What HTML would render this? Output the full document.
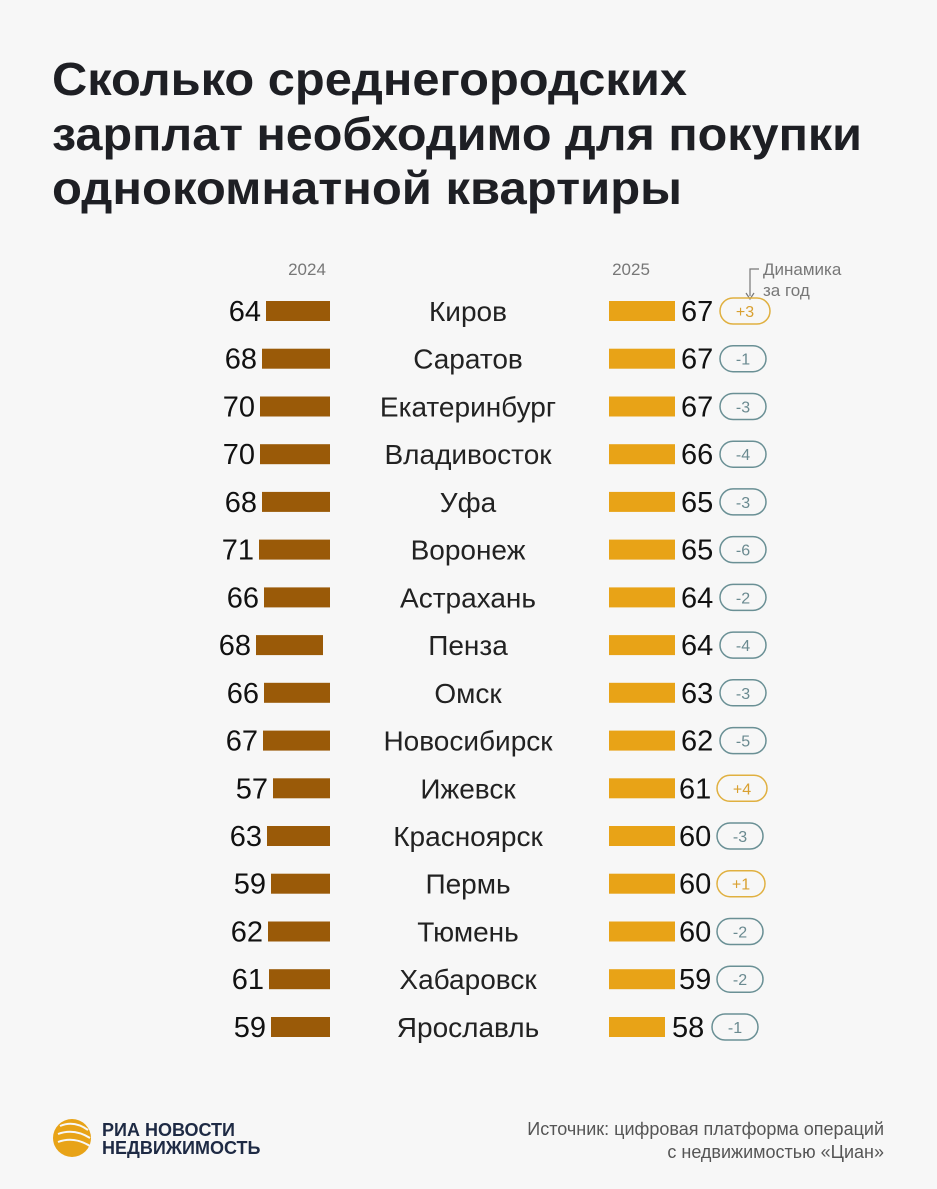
<!DOCTYPE html>
<html><head><meta charset="utf-8"><style>
html,body{margin:0;padding:0;background:#f7f7f7;}
svg{display:block;font-family:"Liberation Sans",sans-serif;}
.num{font-size:29px;fill:#111;}
.city{font-size:28px;fill:#222;text-anchor:middle;}
.bd{font-size:16px;text-anchor:middle;}
.l{fill:#9a5a08;}.r{fill:#e8a317;}
.bp{fill:none;stroke:#e0b040;stroke-width:1.5;}.bn{fill:none;stroke:#6a9095;stroke-width:1.5;}
.tp{fill:#d9a030;}.tn{fill:#6a8a90;}
</style></head><body>
<svg width="937" height="1189" viewBox="0 0 937 1189" xmlns="http://www.w3.org/2000/svg">
<rect width="937" height="1189" fill="#f7f7f7"/>
<g font-weight="bold" font-size="46" fill="#1e1f24">
<text x="52" y="95" textLength="635" lengthAdjust="spacingAndGlyphs">Сколько среднегородских</text>
<text x="52" y="150" textLength="810" lengthAdjust="spacingAndGlyphs">зарплат необходимо для покупки</text>
<text x="52" y="204" textLength="630" lengthAdjust="spacingAndGlyphs">однокомнатной квартиры</text>
</g>
<g font-size="17" fill="#777">
<text x="307" y="275" text-anchor="middle">2024</text>
<text x="631" y="275" text-anchor="middle">2025</text>
<text x="763" y="275">Динамика</text>
<text x="763" y="296">за год</text>
</g>
<path d="M759,269 H750 V296" fill="none" stroke="#777" stroke-width="1.2"/>
<path d="M746,293 L750,299 L754,293" fill="none" stroke="#777" stroke-width="1.2"/>

<g transform="translate(0,311)"><rect class="l" x="266" y="-10" width="64" height="20"/><text class="num" x="261" y="10" text-anchor="end">64</text><text class="city" x="468" y="10">Киров</text><rect class="r" x="609" y="-10" width="66" height="20"/><text class="num" x="681" y="10">67</text><rect class="bp" x="720" y="-13" width="50" height="26" rx="13"/><text class="bd tp" x="745" y="6">+3</text></g>
<g transform="translate(0,358.7)"><rect class="l" x="262" y="-10" width="68" height="20"/><text class="num" x="257" y="10" text-anchor="end">68</text><text class="city" x="468" y="10">Саратов</text><rect class="r" x="609" y="-10" width="66" height="20"/><text class="num" x="681" y="10">67</text><rect class="bn" x="720" y="-13" width="46" height="26" rx="13"/><text class="bd tn" x="743" y="6">-1</text></g>
<g transform="translate(0,406.5)"><rect class="l" x="260" y="-10" width="70" height="20"/><text class="num" x="255" y="10" text-anchor="end">70</text><text class="city" x="468" y="10">Екатеринбург</text><rect class="r" x="609" y="-10" width="66" height="20"/><text class="num" x="681" y="10">67</text><rect class="bn" x="720" y="-13" width="46" height="26" rx="13"/><text class="bd tn" x="743" y="6">-3</text></g>
<g transform="translate(0,454.2)"><rect class="l" x="260" y="-10" width="70" height="20"/><text class="num" x="255" y="10" text-anchor="end">70</text><text class="city" x="468" y="10">Владивосток</text><rect class="r" x="609" y="-10" width="66" height="20"/><text class="num" x="681" y="10">66</text><rect class="bn" x="720" y="-13" width="46" height="26" rx="13"/><text class="bd tn" x="743" y="6">-4</text></g>
<g transform="translate(0,501.9)"><rect class="l" x="262" y="-10" width="68" height="20"/><text class="num" x="257" y="10" text-anchor="end">68</text><text class="city" x="468" y="10">Уфа</text><rect class="r" x="609" y="-10" width="66" height="20"/><text class="num" x="681" y="10">65</text><rect class="bn" x="720" y="-13" width="46" height="26" rx="13"/><text class="bd tn" x="743" y="6">-3</text></g>
<g transform="translate(0,549.6)"><rect class="l" x="259" y="-10" width="71" height="20"/><text class="num" x="254" y="10" text-anchor="end">71</text><text class="city" x="468" y="10">Воронеж</text><rect class="r" x="609" y="-10" width="66" height="20"/><text class="num" x="681" y="10">65</text><rect class="bn" x="720" y="-13" width="46" height="26" rx="13"/><text class="bd tn" x="743" y="6">-6</text></g>
<g transform="translate(0,597.4)"><rect class="l" x="264" y="-10" width="66" height="20"/><text class="num" x="259" y="10" text-anchor="end">66</text><text class="city" x="468" y="10">Астрахань</text><rect class="r" x="609" y="-10" width="66" height="20"/><text class="num" x="681" y="10">64</text><rect class="bn" x="720" y="-13" width="46" height="26" rx="13"/><text class="bd tn" x="743" y="6">-2</text></g>
<g transform="translate(0,645.1)"><rect class="l" x="256" y="-10" width="67" height="20"/><text class="num" x="251" y="10" text-anchor="end">68</text><text class="city" x="468" y="10">Пенза</text><rect class="r" x="609" y="-10" width="66" height="20"/><text class="num" x="681" y="10">64</text><rect class="bn" x="720" y="-13" width="46" height="26" rx="13"/><text class="bd tn" x="743" y="6">-4</text></g>
<g transform="translate(0,692.8)"><rect class="l" x="264" y="-10" width="66" height="20"/><text class="num" x="259" y="10" text-anchor="end">66</text><text class="city" x="468" y="10">Омск</text><rect class="r" x="609" y="-10" width="66" height="20"/><text class="num" x="681" y="10">63</text><rect class="bn" x="720" y="-13" width="46" height="26" rx="13"/><text class="bd tn" x="743" y="6">-3</text></g>
<g transform="translate(0,740.6)"><rect class="l" x="263" y="-10" width="67" height="20"/><text class="num" x="258" y="10" text-anchor="end">67</text><text class="city" x="468" y="10">Новосибирск</text><rect class="r" x="609" y="-10" width="66" height="20"/><text class="num" x="681" y="10">62</text><rect class="bn" x="720" y="-13" width="46" height="26" rx="13"/><text class="bd tn" x="743" y="6">-5</text></g>
<g transform="translate(0,788.3)"><rect class="l" x="273" y="-10" width="57" height="20"/><text class="num" x="268" y="10" text-anchor="end">57</text><text class="city" x="468" y="10">Ижевск</text><rect class="r" x="609" y="-10" width="66" height="20"/><text class="num" x="679" y="10">61</text><rect class="bp" x="717" y="-13" width="50" height="26" rx="13"/><text class="bd tp" x="742" y="6">+4</text></g>
<g transform="translate(0,836)"><rect class="l" x="267" y="-10" width="63" height="20"/><text class="num" x="262" y="10" text-anchor="end">63</text><text class="city" x="468" y="10">Красноярск</text><rect class="r" x="609" y="-10" width="66" height="20"/><text class="num" x="679" y="10">60</text><rect class="bn" x="717" y="-13" width="46" height="26" rx="13"/><text class="bd tn" x="740" y="6">-3</text></g>
<g transform="translate(0,883.7)"><rect class="l" x="271" y="-10" width="59" height="20"/><text class="num" x="266" y="10" text-anchor="end">59</text><text class="city" x="468" y="10">Пермь</text><rect class="r" x="609" y="-10" width="66" height="20"/><text class="num" x="679" y="10">60</text><rect class="bp" x="717" y="-13" width="48" height="26" rx="13"/><text class="bd tp" x="741" y="6">+1</text></g>
<g transform="translate(0,931.5)"><rect class="l" x="268" y="-10" width="62" height="20"/><text class="num" x="263" y="10" text-anchor="end">62</text><text class="city" x="468" y="10">Тюмень</text><rect class="r" x="609" y="-10" width="66" height="20"/><text class="num" x="679" y="10">60</text><rect class="bn" x="717" y="-13" width="46" height="26" rx="13"/><text class="bd tn" x="740" y="6">-2</text></g>
<g transform="translate(0,979.2)"><rect class="l" x="269" y="-10" width="61" height="20"/><text class="num" x="264" y="10" text-anchor="end">61</text><text class="city" x="468" y="10">Хабаровск</text><rect class="r" x="609" y="-10" width="66" height="20"/><text class="num" x="679" y="10">59</text><rect class="bn" x="717" y="-13" width="46" height="26" rx="13"/><text class="bd tn" x="740" y="6">-2</text></g>
<g transform="translate(0,1027)"><rect class="l" x="271" y="-10" width="59" height="20"/><text class="num" x="266" y="10" text-anchor="end">59</text><text class="city" x="468" y="10">Ярославль</text><rect class="r" x="609" y="-10" width="56" height="20"/><text class="num" x="672" y="10">58</text><rect class="bn" x="712" y="-13" width="46" height="26" rx="13"/><text class="bd tn" x="735" y="6">-1</text></g>

<g>
<circle cx="72" cy="1138" r="19" fill="#e8a317"/>
<path d="M60,1126 q14,-6 28,4 M58,1134 q16,-6 32,4 M58,1142 q16,-6 32,4" stroke="#f7f7f7" stroke-width="2" fill="none"/>
<text x="102" y="1136" font-size="18" font-weight="bold" fill="#1e2a44">РИА НОВОСТИ</text>
<text x="102" y="1154" font-size="18" font-weight="bold" fill="#1e2a44">НЕДВИЖИМОСТЬ</text>
<text x="884" y="1135" font-size="18" fill="#555" text-anchor="end">Источник: цифровая платформа операций</text>
<text x="884" y="1158" font-size="18" fill="#555" text-anchor="end">с недвижимостью «Циан»</text>
</g>
</svg>
</body></html>
